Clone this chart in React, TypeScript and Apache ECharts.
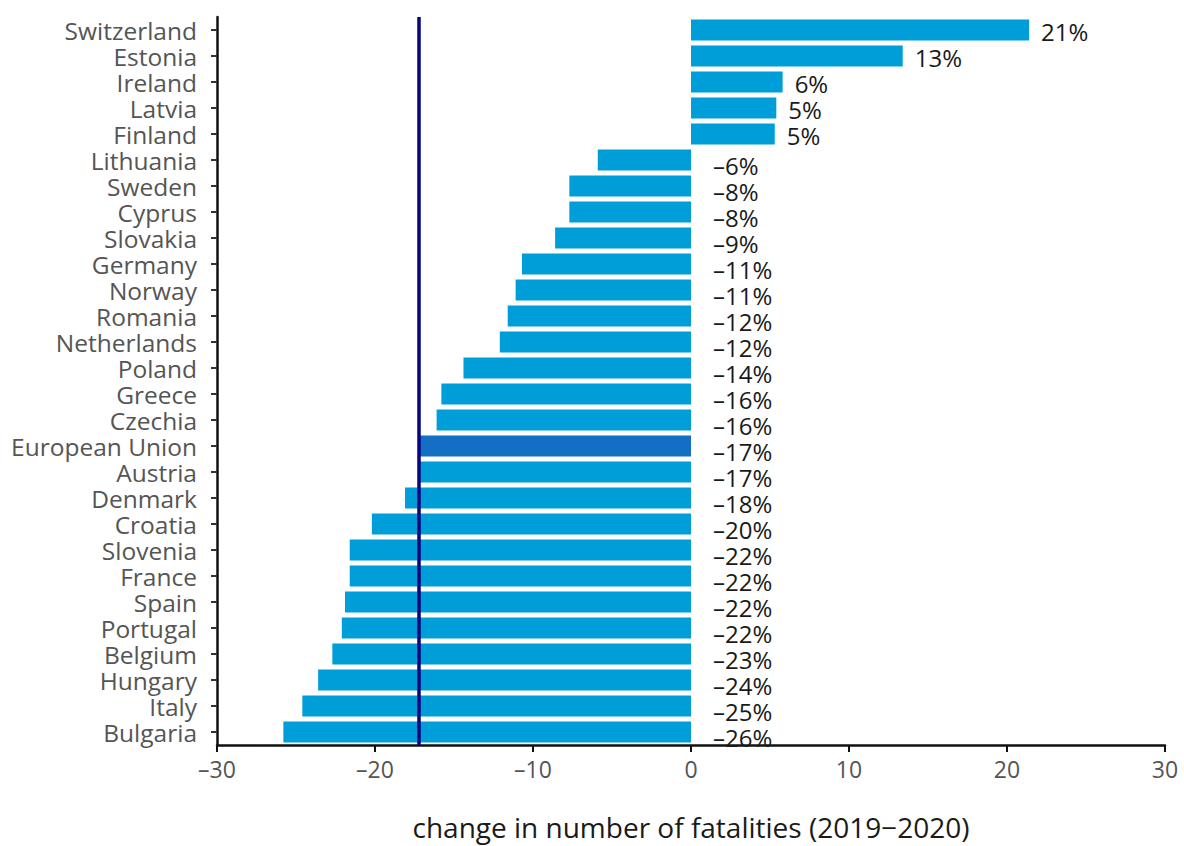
import React, { useEffect, useRef } from "react";
import * as echarts from "echarts";

// Change in road fatalities 2019–2020, per country (percent)
const countries = [
  "Switzerland", "Estonia", "Ireland", "Latvia", "Finland", "Lithuania",
  "Sweden", "Cyprus", "Slovakia", "Germany", "Norway", "Romania",
  "Netherlands", "Poland", "Greece", "Czechia", "European Union", "Austria",
  "Denmark", "Croatia", "Slovenia", "France", "Spain", "Portugal",
  "Belgium", "Hungary", "Italy", "Bulgaria",
];

const changes = [
  21.4, 13.4, 5.8, 5.4, 5.3, -5.9,
  -7.7, -7.7, -8.6, -10.7, -11.1, -11.6,
  -12.1, -14.4, -15.8, -16.1, -17.2, -17.2,
  -18.1, -20.2, -21.6, -21.6, -21.9, -22.1,
  -22.7, -23.6, -24.6, -25.8,
];

const highlighted = "European Union";
const euChange = changes[countries.indexOf(highlighted)];

const xTicks = { min: -30, max: 30, interval: 10 };

const BAR = "#009ed9";
const BAR_EU = "#136fc3";
const FONT = "'Open Sans', 'Noto Sans', sans-serif";

const fmtSigned = (v: number) => (v < 0 ? "\u2013" + Math.abs(v) : String(v));

export default function App() {
  const ref = useRef<HTMLDivElement>(null);

  useEffect(() => {
    document.body.style.margin = "0";
    if (!ref.current) return;
    const chart = echarts.init(ref.current, undefined, { renderer: "svg" });

    const data = changes.map((v, i) => ({
      value: v,
      itemStyle: { color: countries[i] === highlighted ? BAR_EU : BAR },
      label:
        v >= 0
          ? { position: "right", distance: 12, offset: [0, 1] }
          : { position: "right", distance: 22, offset: [0, 5] },
    }));

    chart.setOption({
      animation: false,
      textStyle: { fontFamily: FONT },
      grid: {
        left: 217,
        right: 19,
        top: 17,
        bottom: 101,
        containLabel: false,
        outerBoundsMode: "none",
      },
      xAxis: {
        type: "value",
        min: xTicks.min,
        max: xTicks.max,
        interval: xTicks.interval,
        name: "change in number of fatalities (2019\u22122020)",
        nameLocation: "middle",
        nameGap: 68,
        nameTextStyle: { fontSize: 28, color: "#1a1a1a", fontFamily: FONT },
        axisLine: { show: true, lineStyle: { color: "#111", width: 2.5 } },
        axisTick: { show: true, length: 7, lineStyle: { color: "#111", width: 2 } },
        axisLabel: {
          fontSize: 23,
          color: "#555",
          margin: 12,
          fontFamily: FONT,
          formatter: (v: number) => fmtSigned(v),
        },
        splitLine: { show: false },
      },
      yAxis: {
        type: "category",
        data: countries,
        inverse: true,
        axisLine: { show: true, onZero: false, lineStyle: { color: "#111", width: 2.5 } },
        axisTick: {
          show: true,
          alignWithLabel: true,
          length: 6,
          lineStyle: { color: "#333", width: 2 },
        },
        axisLabel: {
          interval: 0,
          fontSize: 24.5,
          lineHeight: 25,
          color: "#555",
          margin: 20,
          fontFamily: FONT,
        },
      },
      series: [
        {
          type: "bar",
          data,
          barWidth: 21,
          label: {
            show: true,
            fontSize: 24,
            color: "#1a1a1a",
            fontFamily: FONT,
            formatter: (p: any) => fmtSigned(Math.round(p.value)) + "%",
          },
          markLine: {
            silent: true,
            symbol: "none",
            label: { show: false },
            lineStyle: { color: "#06067f", width: 3.5, type: "solid" },
            data: [{ xAxis: euChange }],
          },
        },
      ],
    });

    return () => chart.dispose();
  }, []);

  return <div ref={ref} style={{ width: 1184, height: 846 }} />;
}
